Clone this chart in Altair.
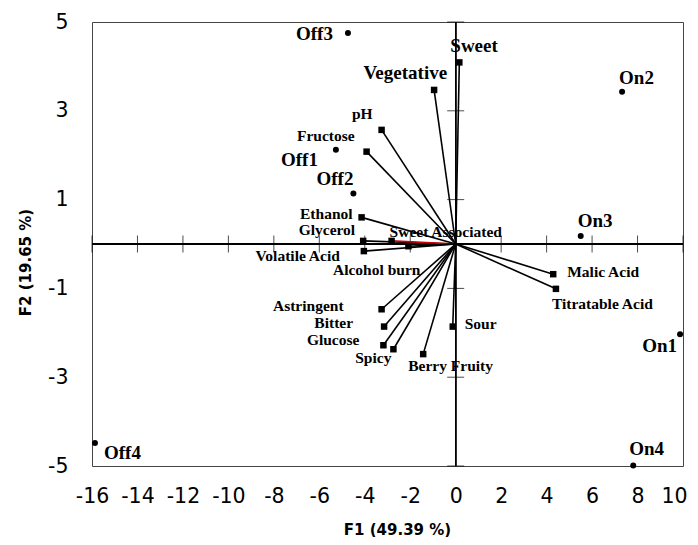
import altair as alt
import pandas as pd

# Observations (circles)
obs_names = ["Off1", "Off2", "Off3", "Off4", "On1", "On2", "On3", "On4"]
obs_f1 = [-5.27, -4.50, -4.74, -15.87, 9.87, 7.32, 5.50, 7.81]
obs_f2 = [2.12, 1.14, 4.75, -4.48, -2.03, 3.43, 0.18, -4.99]

# Variables (vectors ending in squares)
var_names = ["Sweet", "Vegetative", "pH", "Fructose", "Ethanol", "Glycerol",
             "Sweet Associated", "Alcohol burn", "Volatile Acid", "Astringent",
             "Bitter", "Glucose", "Spicy", "Berry Fruity", "Sour",
             "Malic Acid", "Titratable Acid"]
var_f1 = [0.16, -0.95, -3.26, -3.92, -4.14, -4.07, -2.82, -2.08, -4.04, -3.26,
          -3.15, -3.18, -2.74, -1.43, -0.13, 4.29, 4.41]
var_f2 = [4.09, 3.47, 2.57, 2.08, 0.60, 0.07, 0.07, -0.05, -0.16, -1.47,
          -1.86, -2.28, -2.37, -2.48, -1.86, -0.68, -1.01]

x_ticks = list(range(-16, 11, 2))
y_ticks = [-5, -3, -1, 1, 3, 5]
x_title = "F1 (49.39 %)"
y_title = "F2 (19.65 %)"

# label placement (style): align, dx, dy, font size
BIG = 19
SMALL = 15.5
label_style = {
    "Off1": ("right", -18, 10, BIG),
    "Off2": ("right", 0, -14, BIG),
    "Off3": ("right", -15, 1, BIG),
    "Off4": ("left", 9, 10, BIG),
    "On1": ("right", -3, 12, BIG),
    "On2": ("left", -3, -14, BIG),
    "On3": ("left", -3, -15, BIG),
    "On4": ("left", -4, -17, BIG),
    "Sweet": ("left", -9, -16, BIG),
    "Vegetative": ("right", 13, -17, BIG),
    "pH": ("right", -9, -16, SMALL),
    "Fructose": ("right", -12, -16, SMALL),
    "Ethanol": ("right", -9, -3, SMALL),
    "Glycerol": ("right", -8, -11, SMALL),
    "Sweet Associated": ("left", -2, -9, SMALL),
    "Alcohol burn": ("right", 12, 24, SMALL),
    "Volatile Acid": ("right", -24, 5, SMALL),
    "Astringent": ("right", -38, -3, SMALL),
    "Bitter": ("right", -31, -4, SMALL),
    "Glucose": ("right", -24, -5, SMALL),
    "Spicy": ("right", -2, 9, SMALL),
    "Berry Fruity": ("left", -15, 12, SMALL),
    "Sour": ("left", 12, -3, SMALL),
    "Malic Acid": ("left", 14, -2, SMALL),
    "Titratable Acid": ("left", -4, 15, SMALL),
}

obs = pd.DataFrame({"name": obs_names, "x": obs_f1, "y": obs_f2})
var = pd.DataFrame({"name": var_names, "x": var_f1, "y": var_f2,
                    "x0": [0.0] * len(var_names), "y0": [0.0] * len(var_names)})
xt = pd.DataFrame({"v": x_ticks})
yt = pd.DataFrame({"v": y_ticks})

xs = alt.Scale(domain=[-16, 10], nice=False, zero=False)
ys = alt.Scale(domain=[-5, 5], nice=False, zero=False)

X = alt.X("x:Q", scale=xs, title=x_title,
          axis=alt.Axis(values=x_ticks, labelExpr="'' + datum.value", grid=False,
                        domain=False, ticks=False, labelFontSize=20.5,
                        labelFont="DejaVu Sans", labelColor="black",
                        labelPadding=20, labelFlush=False,
                        labelOffset=alt.ExprRef(expr="datum.value == 10 ? -9 : 0"),
                        titleFont="DejaVu Sans", titleFontSize=15,
                        titleFontWeight="bold", titleColor="black",
                        titleX=305, titleY=68, titleBaseline="alphabetic"))
Y = alt.Y("y:Q", scale=ys, title=y_title,
          axis=alt.Axis(values=y_ticks, labelExpr="'' + datum.value", grid=False,
                        domain=False, ticks=False, labelFontSize=20.5,
                        labelFont="DejaVu Sans", labelColor="black",
                        labelPadding=24, labelFlush=False, labelBaseline="middle",
                        titleFont="DejaVu Sans", titleFontSize=15,
                        titleFontWeight="bold", titleColor="black",
                        titleAngle=270, titleX=-62, titleY=240,
                        titleBaseline="alphabetic"))

zero_h = alt.Chart(obs).mark_rule(color="black", strokeWidth=1).encode(y=alt.datum(0, scale=ys))
zero_v = alt.Chart(obs).mark_rule(color="black", strokeWidth=1).encode(x=alt.datum(0, scale=xs))

ticks_h = alt.Chart(xt).mark_tick(orient="vertical", size=17, thickness=1, color="black").encode(
    x=alt.X("v:Q", scale=xs), y=alt.datum(0, scale=ys))
ticks_v = alt.Chart(yt).mark_tick(orient="horizontal", size=17, thickness=1, color="black").encode(
    y=alt.Y("v:Q", scale=ys), x=alt.datum(0, scale=xs))

vectors = alt.Chart(var).mark_rule(strokeWidth=1.6).encode(
    x=X, y=Y, x2="x0:Q", y2="y0:Q",
    color=alt.condition(alt.datum.name == "Sweet Associated",
                        alt.value("#d00000"), alt.value("black")))

squares = alt.Chart(var).mark_square(size=42, color="black", opacity=1).encode(x=X, y=Y)
circles = alt.Chart(obs).mark_circle(size=36, color="black", opacity=1).encode(x=X, y=Y)

layers = [zero_h, zero_v, ticks_h, ticks_v, vectors, squares, circles]

for df in (obs, var):
    for n in df["name"]:
        align, dx, dy, fs = label_style[n]
        layers.append(
            alt.Chart(df).transform_filter(alt.datum.name == n).mark_text(
                align=align, baseline="middle", dx=dx, dy=dy, fontSize=fs,
                font="Liberation Serif", fontWeight="bold", color="black"
            ).encode(x=X, y=Y, text="name:N")
        )

chart = alt.layer(*layers).properties(
    width=591, height=444,
    autosize=alt.AutoSizeParams(type="none"),
    padding={"left": 84, "top": 14, "right": 7, "bottom": 71},
).configure_view(stroke="#444", strokeWidth=1)

chart.save("out.html", embed_options={"renderer": "svg", "actions": False})
